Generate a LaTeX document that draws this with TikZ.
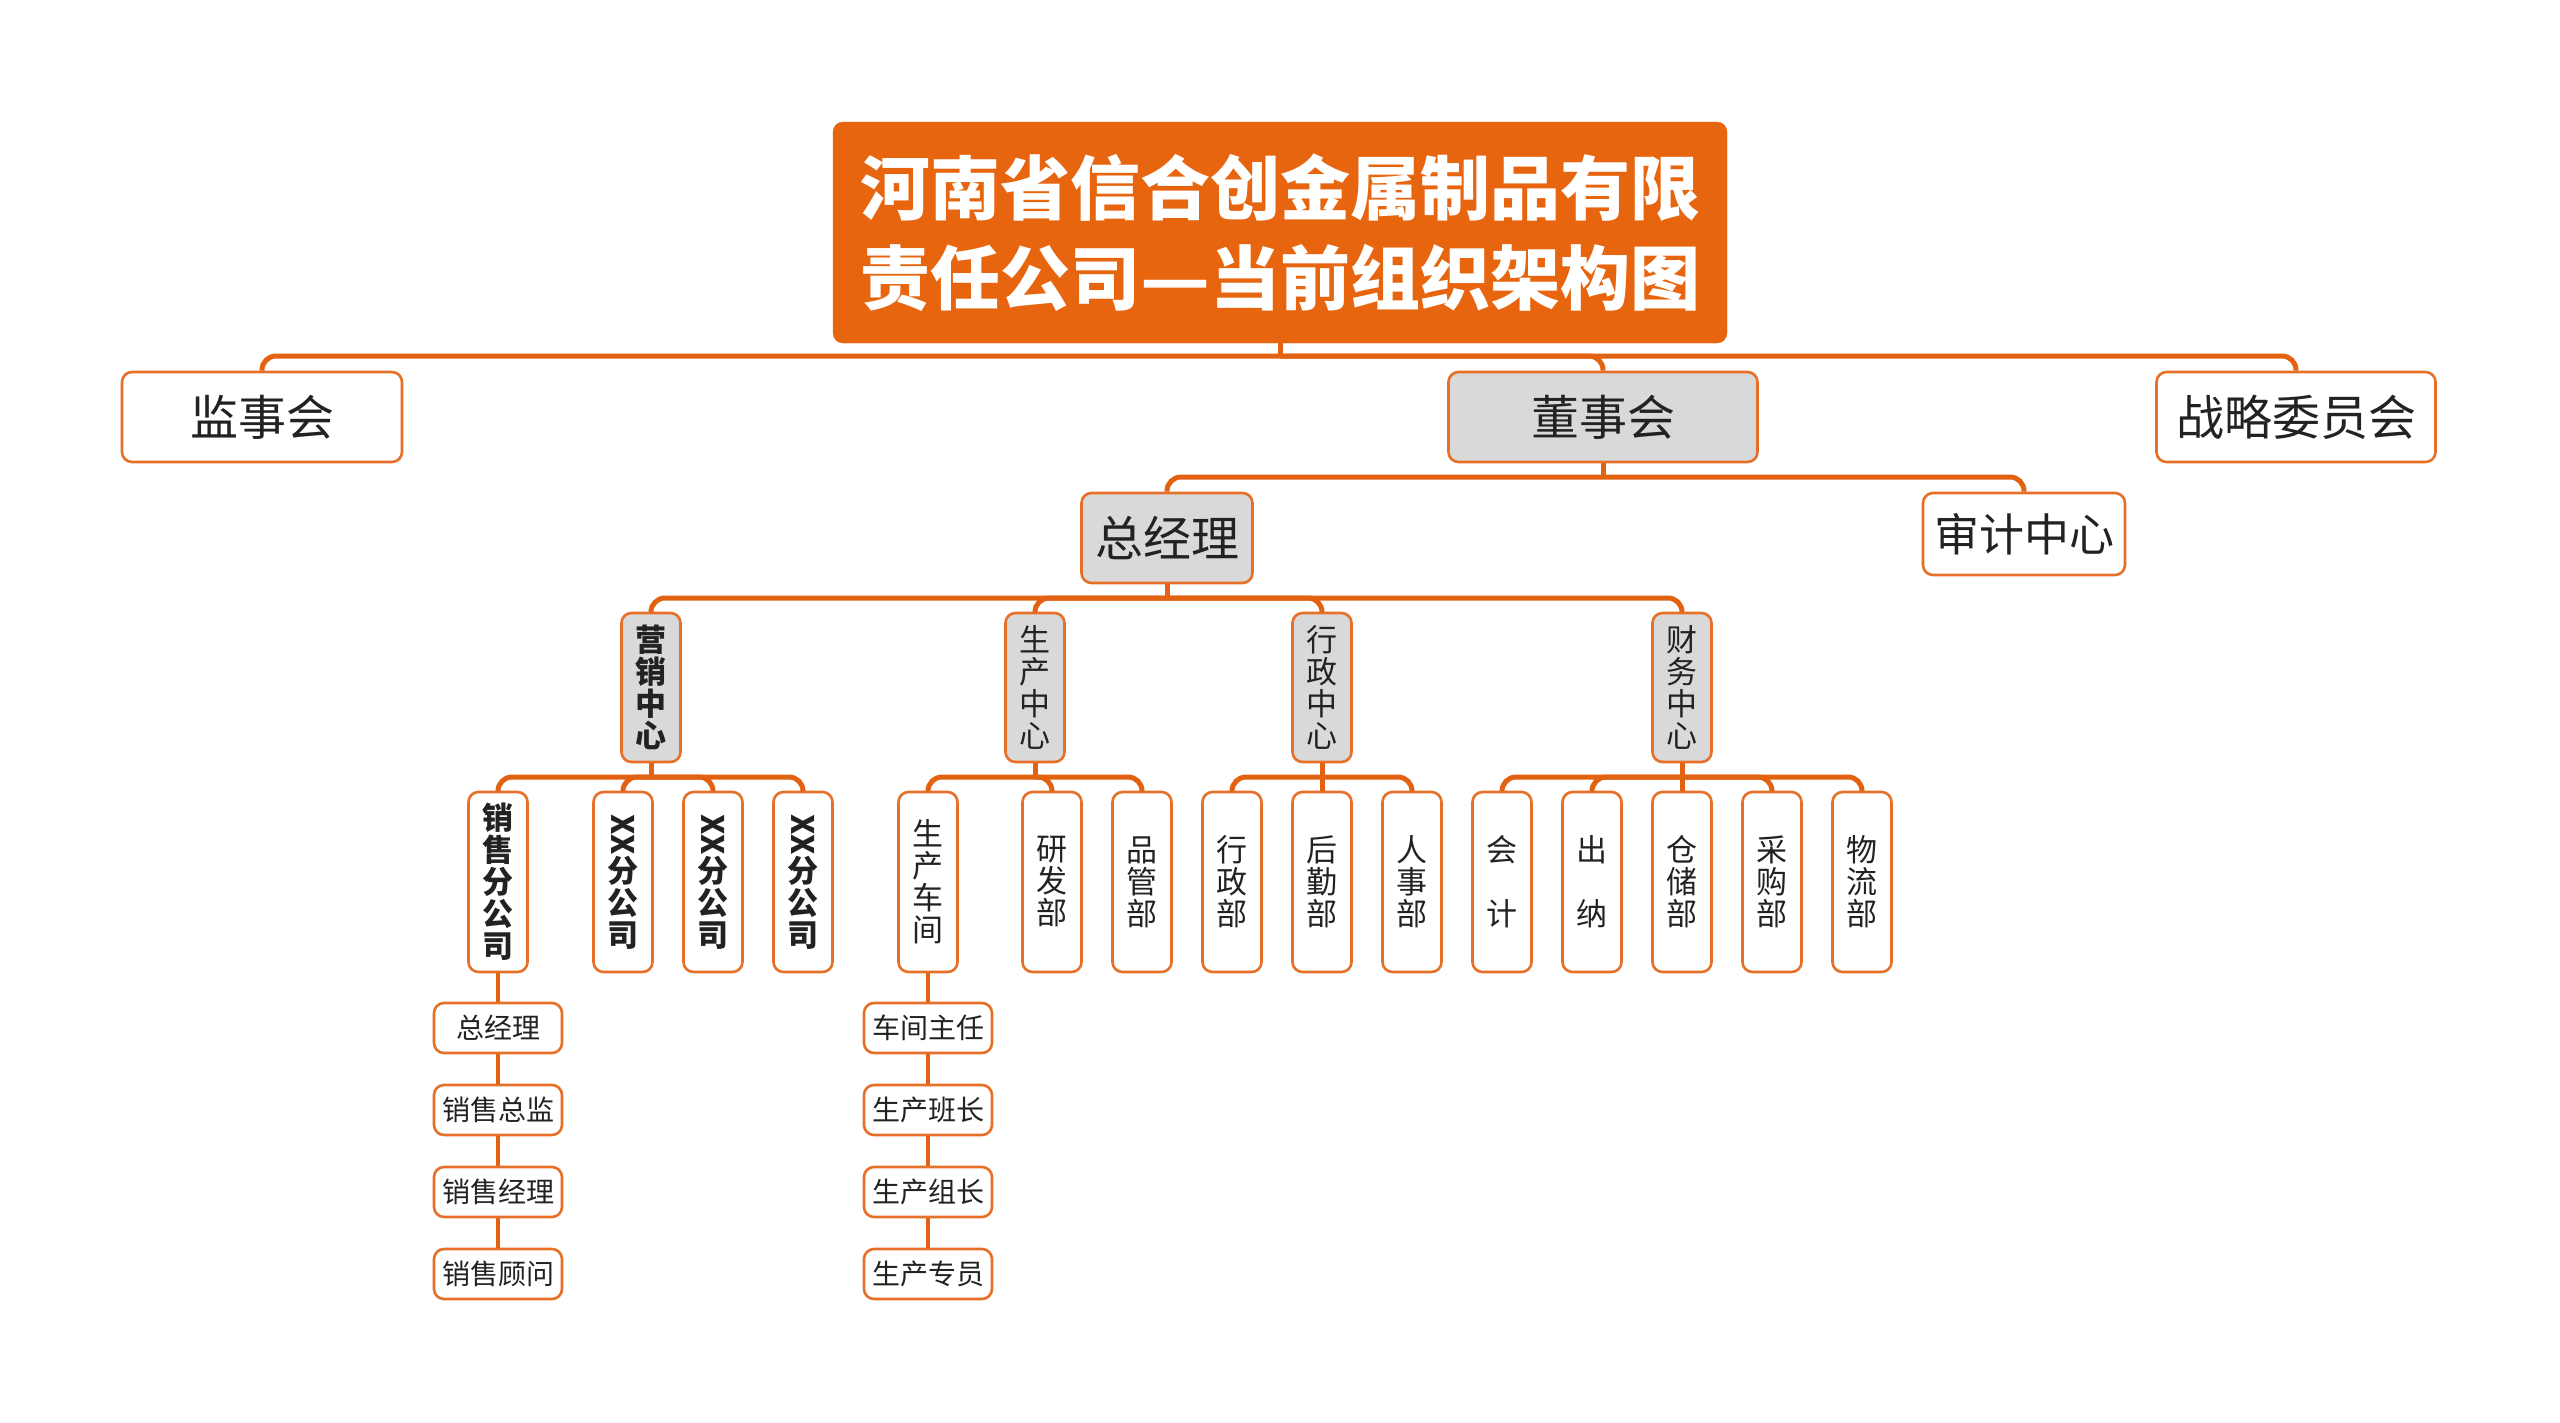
\documentclass[tikz,border=0pt]{standalone}
\usepackage{fontspec}
\usepackage{graphicx}
\setmainfont{Noto Sans CJK SC}
\definecolor{lineor}{RGB}{226,98,18}
\definecolor{bordor}{RGB}{230,112,40}
\definecolor{titleor}{RGB}{232,101,16}
\definecolor{grayf}{RGB}{217,217,217}
\definecolor{txt}{RGB}{34,34,34}
\newcommand\setfs[2]{\fontsize{#1}{#2}\selectfont}
\tikzset{
  conn/.style={draw=lineor, line width=5pt, rounded corners=14pt},
  leafconn/.style={draw=lineor, line width=4.5pt},
  wbox/.style={draw=bordor, line width=2.6pt, rounded corners=10pt, fill=white, inner sep=0pt, text=txt, align=center},
  gbox/.style={wbox, fill=grayf},
  lone/.style={font=\setfs{48}{56}},
  vcol/.style={minimum width=59pt, font=\setfs{31}{32}},
  ctr/.style={gbox, vcol, minimum height=149pt},
  dept/.style={wbox, vcol, minimum height=180pt},
  leaf/.style={wbox, minimum width=128pt, minimum height=50pt, font=\setfs{28}{32}},
}
\begin{document}
\begin{tikzpicture}[x=1pt,y=-1pt]
\useasboundingbox[fill=white] (0,0) rectangle (2560,1422);
% title
\node[draw=titleor, fill=titleor, rounded corners=10pt, minimum width=894pt, minimum height=221pt, inner sep=0pt,
      text=white, align=center, font=\setfs{70}{90}\bfseries] (title) at (1280,232.5)
  {河南省信合创金属制品有限\\责任公司\makebox[1em][c]{\resizebox{1em}{\height}{—}}当前组织架构图};
% level 1
\node[wbox, lone, minimum width=280pt, minimum height=90pt] (jian) at (262,417) {监事会};
\node[gbox, lone, minimum width=309pt, minimum height=90pt] (dong) at (1603,417) {董事会};
\node[wbox, lone, minimum width=279pt, minimum height=90pt] (zhan) at (2296,417) {战略委员会};
% level 2
\node[gbox, lone, minimum width=171pt, minimum height=90pt] (zjl) at (1167,538) {总经理};
\node[wbox, font=\setfs{45}{52}, minimum width=202pt, minimum height=82pt] (shenji) at (2024,534) {审计中心};
% level 3
\node[ctr, font=\setfs{31}{32}\bfseries] (ying) at (651,687.5) {营\\销\\中\\心};
\node[ctr] (sheng) at (1035,687.5) {生\\产\\中\\心};
\node[ctr] (xing) at (1322,687.5) {行\\政\\中\\心};
\node[ctr] (cai) at (1682,687.5) {财\\务\\中\\心};
% level 4
\node[dept, font=\setfs{31}{32}\bfseries] (xsfgs) at (498,882) {销\\售\\分\\公\\司};
\node[dept, font=\setfs{31}{32}\bfseries] (xxa) at (623,882) {\rotatebox[origin=c]{-90}{XX}\\分\\公\\司};
\node[dept, font=\setfs{31}{32}\bfseries] (xxb) at (713,882) {\rotatebox[origin=c]{-90}{XX}\\分\\公\\司};
\node[dept, font=\setfs{31}{32}\bfseries] (xxc) at (803,882) {\rotatebox[origin=c]{-90}{XX}\\分\\公\\司};
\node[dept] (scj) at (928,882) {生\\产\\车\\间};
\node[dept] (yf) at (1052,882) {研\\发\\部};
\node[dept] (pg) at (1142,882) {品\\管\\部};
\node[dept] (xzb) at (1232,882) {行\\政\\部};
\node[dept] (hq) at (1322,882) {后\\勤\\部};
\node[dept] (rs) at (1412,882) {人\\事\\部};
\node[dept] (kj) at (1502,882) {会\\[32pt]计};
\node[dept] (cn) at (1592,882) {出\\[32pt]纳};
\node[dept] (cc) at (1682,882) {仓\\储\\部};
\node[dept] (cg) at (1772,882) {采\\购\\部};
\node[dept] (wl) at (1862,882) {物\\流\\部};
% leaves
\node[leaf] (la) at (498,1028) {总经理};
\node[leaf] (lb) at (498,1110) {销售总监};
\node[leaf] (lc) at (498,1192) {销售经理};
\node[leaf] (ld) at (498,1274) {销售顾问};
\node[leaf] (ma) at (928,1028) {车间主任};
\node[leaf] (mb) at (928,1110) {生产班长};
\node[leaf] (mc) at (928,1192) {生产组长};
\node[leaf] (md) at (928,1274) {生产专员};
% junctions
\coordinate (j0) at (1280,356);
\coordinate (j1) at (1603,477);
\coordinate (j2) at (1167,598);
\coordinate (jy) at (651,777);
\coordinate (js) at (1035,777);
\coordinate (jx) at (1322,777);
\coordinate (jc) at (1682,777);
% connectors
\draw[conn] (title.south) -- (j0);
\foreach \c in {jian,dong,zhan} \draw[conn] (j0) -| (\c.north);
\draw[conn] (dong.south) -- (j1);
\foreach \c in {zjl,shenji} \draw[conn] (j1) -| (\c.north);
\draw[conn] (zjl.south) -- (j2);
\foreach \c in {ying,sheng,xing,cai} \draw[conn] (j2) -| (\c.north);
\draw[conn] (ying.south) -- (jy);
\foreach \c in {xsfgs,xxa,xxb,xxc} \draw[conn] (jy) -| (\c.north);
\draw[conn] (sheng.south) -- (js);
\foreach \c in {scj,yf,pg} \draw[conn] (js) -| (\c.north);
\draw[conn] (xing.south) -- (hq.north);
\foreach \c in {xzb,rs} \draw[conn] (jx) -| (\c.north);
\draw[conn] (cai.south) -- (cc.north);
\foreach \c in {kj,cn,cg,wl} \draw[conn] (jc) -| (\c.north);
\draw[leafconn] (xsfgs.south) -- (la.north);
\draw[leafconn] (la.south) -- (lb.north);
\draw[leafconn] (lb.south) -- (lc.north);
\draw[leafconn] (lc.south) -- (ld.north);
\draw[leafconn] (scj.south) -- (ma.north);
\draw[leafconn] (ma.south) -- (mb.north);
\draw[leafconn] (mb.south) -- (mc.north);
\draw[leafconn] (mc.south) -- (md.north);
\end{tikzpicture}
\end{document}
